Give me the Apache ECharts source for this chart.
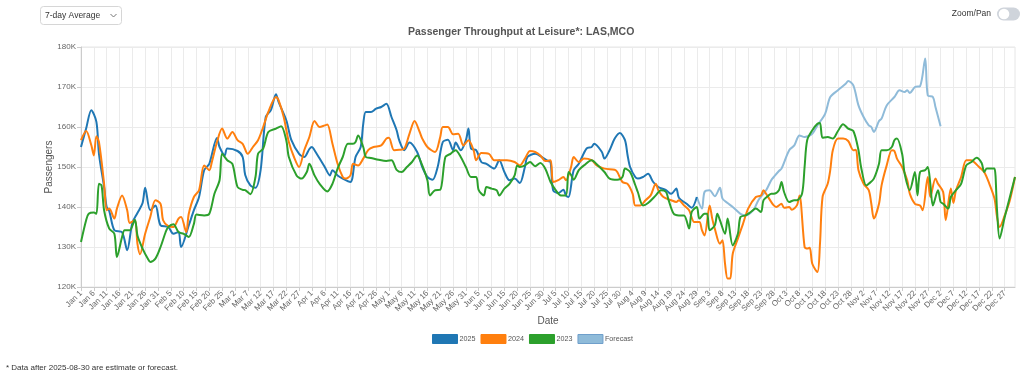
<!DOCTYPE html>
<html><head><meta charset="utf-8">
<script src="https://cdn.jsdelivr.net/npm/echarts@6/dist/echarts.min.js"></script>
<style>html,body{margin:0;padding:0;background:#fff}#c{width:1024px;height:378px}</style>
</head><body><div id="c"></div>
<script>
// Day-of-year categories (Jan 1 .. Dec 31), labels shown every 5 days
const monthNames = ['Jan','Feb','Mar','Apr','May','Jun','Jul','Aug','Sep','Oct','Nov','Dec'];
const monthDays = [31,28,31,30,31,30,31,31,30,31,30,31];
const categories = [];
monthNames.forEach((m, i) => { for (let d = 1; d <= monthDays[i]; d++) categories.push(m + ' ' + d); });

const yTicks = [120, 130, 140, 150, 160, 170, 180]; // thousands

// [dayIndex, passengers in thousands]
const s2025 = [[0,155],[2,159.6],[4,164.2],[6,161.3],[7,153.3],[9,145],[10,140],[11,139],[13,134.2],[16,133.7],[18,129.2],[20,136],[22,138.5],[24,141],[25,144.8],[27,139.2],[29,140.4],[31,135.4],[34,135],[36,133.3],[38,133.75],[39,130],[42,135.4],[44,139.2],[46,142.5],[48,149.2],[50,150.8],[53,157.25],[54,155],[56,152.9],[57,154.6],[61,154],[63,152.5],[64,148],[66,145.4],[68,144.8],[70,149.2],[72,162.5],[74,164.2],[76,168.2],[77,166.25],[80,161.7],[82,156.7],[85,153.3],[87,152.5],[89,154.5],[90,155],[91,154.2],[93,152.1],[95,150],[97,147.9],[98,149.2],[100,147.9],[102,147.1],[105,146.25],[107,152.5],[109,155],[110,160.8],[111,163.75],[113,163.75],[115,164.6],[117,165],[119,165.8],[121,162.5],[123,159.2],[124,156.7],[126,154.2],[128,156.1],[131,153.75],[133,150],[135,147.5],[137,146.8],[139,150],[141,156.25],[143,156.8],[145,154.2],[146,156.1],[148,154.2],[150,156.7],[151,159.6],[152,154.6],[154,154.2],[156,151.25],[158,150.8],[161,149.6],[163,151.7],[165,148.75],[167,146.7],[169,147.1],[171,146],[173,150],[174,152.5],[177,153.3],[180,152.3],[182,151.5],[183,151.25],[184,144.2],[186,143.5],[188,144.3],[189,142.9],[190,142.5],[192,149.2],[194,150.8],[197,154.6],[199,155],[200,155.8],[203,153.75],[204,152.1],[206,154.2],[208,157.1],[210,158.5],[212,156.7],[213,153],[214,150],[216,147.5],[217,147.1],[219,147.5],[221,148.3],[223,146.25],[225,145],[228,144.2],[230,143.3],[232,144.6],[233,142.3],[236,140.8],[238,139.8],[240,142.5]];

const s2024 = [[0,156.7],[2,159],[4,155.5],[5,152.9],[6,157.7],[7,156.25],[9,145.8],[10,139.2],[11,139.6],[13,137.1],[14,139.6],[16,142.9],[18,139.2],[19,136],[21,136.7],[22,130.8],[23,128.2],[25,133.3],[27,137.5],[29,141.7],[31,140.8],[32,136.7],[34,135.2],[36,135],[38,137.1],[39,137.5],[41,133.75],[42,138.3],[44,142.5],[46,144.2],[48,150.4],[50,149.2],[51,151.25],[53,156.25],[55,159.6],[57,157.1],[59,158.75],[61,156.7],[63,155.8],[65,153.3],[67,155],[69,156.7],[71,160],[73,163.75],[76,167.5],[77,166.7],[79,162.5],[81,156.25],[83,152.5],[85,150],[87,154.2],[89,157.5],[91,161.5],[93,160],[95,160.4],[96,160.6],[98,155.8],[100,150.8],[102,147.5],[103,147.1],[105,147.9],[106,150.8],[108,150.4],[110,152.1],[112,154.3],[114,155],[117,155.4],[119,157.1],[120,157.3],[122,154.2],[124,154.3],[126,154.6],[128,158.3],[130,161.5],[132,158.75],[133,157.1],[135,155],[138,153.75],[140,157.5],[141,160],[143,160],[145,158.2],[147,158.3],[149,155.4],[151,156.7],[153,154.2],[154,151.7],[156,153.5],[159,153.3],[161,151.7],[164,151.7],[166,151.7],[169,151.25],[171,150.4],[173,152.1],[175,154],[177,153.75],[179,152.9],[181,151.5],[183,151.7],[184,146.25],[186,146.7],[188,147.5],[189,146.7],[191,150],[192,152.5],[194,151.25],[196,152.1],[199,151.7],[201,150.4],[204,149.6],[208,149.3],[209,148.75],[211,146.25],[213,145.8],[215,143.3],[216,140.4],[218,140.4],[220,141.7],[222,142.9],[224,145.8],[225,144.2],[227,142.5],[230,141.7],[232,141.25],[233,141.7],[235,140.4],[237,139.2],[239,136.25],[241,136.25],[242,134.2],[243,132.9],[245,140.4],[246,137.1],[247,134.6],[249,130.8],[250,131.7],[251,125.8],[252,122.1],[253,122.1],[254,128.3],[256,132.1],[258,135.8],[260,139.6],[263,142.5],[265,142.9],[266,144.2],[267,143.3],[269,141.25],[270,140.4],[271,140],[273,140.8],[274,139.8],[276,140],[277,139.3],[279,140.4],[280,142.9],[282,130],[283,129.6],[284,129.8],[285,125.8],[287,123.75],[288,130.8],[289,142.5],[291,145.8],[292,149.2],[293,154.2],[295,157.1],[297,157.1],[299,156.5],[301,154.2],[302,154.3],[303,149.2],[305,145.8],[307,144.2],[308,140.8],[309,137.1],[311,140.8],[312,145.4],[314,150.4],[316,154.2],[317,154],[318,152.1],[320,150],[322,146.7],[323,143.3],[325,140.8],[327,140.4],[328,139.2],[330,147.5],[331,142.5],[333,147.1],[334,145.8],[336,143.75],[337,136.7],[339,144.6],[340,141],[341,144.2],[343,147.5],[345,151.7],[347,151.7],[348,151.25],[350,150],[352,148.75],[354,145.8],[356,142.1],[357,137.5],[358,135],[360,137.9],[362,141.7],[364,147.5]];

const s2023 = [[0,131.25],[2,136.7],[3,138.3],[5,138.6],[6,138.3],[7,145.8],[8,145.4],[9,139.2],[11,134.6],[13,133.3],[14,127.5],[16,132.5],[17,134.2],[19,134.2],[21,136.8],[22,132.9],[24,129.6],[26,127.1],[27,126.25],[29,127.1],[31,130],[33,133.75],[34,135],[36,135.7],[38,133.75],[40,133.3],[42,132.5],[44,135.8],[45,138.1],[48,137.9],[50,138.3],[52,143.3],[54,146.7],[55,153.3],[57,151.7],[59,150.8],[61,145],[63,144.3],[64,144.2],[66,143.2],[68,147.5],[69,153.3],[71,154.6],[73,158.75],[76,159.6],[78,160.2],[80,156.7],[81,152.5],[84,147.9],[86,147.1],[88,148.75],[89,150.8],[91,147.9],[93,145.8],[96,143.9],[98,145.8],[100,149.6],[102,152.5],[104,155.8],[106,155.8],[107,156.25],[108,157.9],[110,155],[111,152.5],[113,152.25],[116,151.8],[119,151.5],[121,151.7],[123,149.3],[125,148.75],[127,150],[129,151.25],[131,152.9],[133,150.4],[135,146.7],[136,142.9],[138,144.2],[140,144.3],[142,152.5],[144,153.3],[146,154.2],[148,152.5],[150,150],[152,147.5],[154,147.5],[155,144.2],[157,142.9],[158,145],[160,144.6],[162,144.2],[163,142.9],[165,144.6],[167,145.8],[169,147.9],[170,150.4],[171,150],[173,150.4],[175,151.25],[177,150.2],[179,151],[181,149.5],[183,146.25],[185,144.2],[187,142.9],[189,142.9],[190,148.75],[191,148],[192,146.8],[194,149.2],[196,150.4],[199,151.7],[201,150.7],[204,148.75],[206,147.1],[209,146.8],[211,147.5],[212,149.6],[214,148.75],[216,145.5],[217,143.75],[219,140.4],[221,141],[224,142.9],[226,144.2],[228,143.75],[229,141.7],[231,138.3],[233,137.9],[235,137.9],[237,134.6],[238,138.75],[240,140],[241,137.1],[243,138.3],[244,138.3],[245,134.2],[247,135.4],[248,138.3],[249,136.7],[251,133.3],[252,137.1],[254,130.4],[256,133.3],[257,137.5],[259,137.9],[261,138.75],[263,139.6],[265,138.75],[266,141.7],[268,142.9],[269,143.3],[270,143.3],[272,144.2],[273,146.25],[274,143.75],[276,141.25],[278,141.7],[279,141.7],[281,143.3],[282,150],[283,156.7],[285,159.2],[287,160.8],[288,161],[289,157.3],[291,157.5],[293,157.1],[295,159],[297,160.7],[299,159.6],[301,159],[303,154.2],[304,150],[306,145.4],[307,145.8],[309,147.1],[311,150.8],[312,154.2],[314,154.2],[316,155],[317,156.7],[318,157.1],[320,153.3],[321,148.3],[323,144.2],[325,148.75],[326,142.9],[327,148.75],[329,149.2],[330,150],[331,145.8],[332,140.4],[334,144.2],[335,141.25],[336,140.8],[338,139.6],[339,142.5],[341,144.2],[343,145.8],[345,150.4],[347,151.25],[349,152.3],[351,151],[352,148.75],[353,149.6],[355,149.6],[356,149.6],[357,139.2],[358,132.1],[360,137.5],[362,142.5],[364,147.5]];

const sForecast = [[240,142.5],[242,139.6],[243,143.75],[245,144.2],[247,142.7],[249,144.8],[250,142.1],[252,141],[254,140],[257,138.3],[259,137.9],[262,139.2],[264,141.7],[267,144.2],[269,146.7],[270,147.5],[272,149],[273,149.6],[276,154.2],[278,155.4],[280,157.9],[282,157.5],[285,158.3],[287,160.4],[290,163.3],[292,167.5],[295,169.2],[298,170.8],[299,171.5],[301,170.4],[303,165.4],[305,162.5],[307,160.4],[308,160],[309,158.75],[311,161.5],[312,162.1],[314,165.4],[317,167.5],[319,169.2],[321,168.75],[322,169.2],[323,168.5],[325,170],[327,170.2],[329,177.1],[330,167.9],[332,167.5],[333,165],[335,160.2]];

const seriesNames = ['2025','2024','2023','Forecast'];
const seriesColors = ['#1f77b4','#ff7f0e','#2ca02c','#8fbbd9'];
const seriesData = [s2025, s2024, s2023, sForecast];

const FONT = '"Liberation Sans", Arial, Helvetica, sans-serif';
const chart = echarts.init(document.getElementById('c'), null, {renderer: 'canvas'});

chart.setOption({
  animation: false,
  textStyle: {fontFamily: FONT},
  title: {
    text: 'Passenger Throughput at Leisure*: LAS,MCO',
    left: 408, top: 27, padding: 0,
    textStyle: {fontSize: 10.5, fontWeight: 'bold', color: '#555', fontFamily: FONT}
  },
  legend: {
    left: 432, top: 334, padding: 0,
    itemWidth: 25, itemHeight: 9, itemGap: 5,
    icon: 'rect',
    textStyle: {fontSize: 7.2, color: '#555', fontFamily: FONT, padding: [0,0,0,-3]},
    data: seriesNames.map((n, i) => ({
      name: n,
      itemStyle: {color: seriesColors[i], borderColor: i === 3 ? '#6f9fcb' : seriesColors[i], borderWidth: 1}
    }))
  },
  grid: {left: 81, right: 9, top: 47, bottom: 91, show: true, borderColor: '#e6e6e6', borderWidth: 1},
  xAxis: {
    type: 'category',
    data: categories,
    boundaryGap: false,
    name: 'Date', nameLocation: 'middle', nameGap: 29, nameMoveOverlap: false,
    nameTextStyle: {fontSize: 10, color: '#555', fontFamily: FONT},
    axisLine: {lineStyle: {color: '#ccc'}},
    axisTick: {show: true, interval: 4, length: 4, lineStyle: {color: '#ccc'}},
    axisLabel: {interval: 4, rotate: 45, fontSize: 8, color: '#666', margin: 5, fontFamily: FONT},
    splitLine: {show: true, interval: 4, lineStyle: {color: '#ebebeb', width: 1}}
  },
  yAxis: {
    type: 'value',
    min: yTicks[0], max: yTicks[yTicks.length - 1], interval: 10,
    name: 'Passengers', nameLocation: 'middle', nameGap: 27, nameMoveOverlap: false,
    nameTextStyle: {fontSize: 10, color: '#555', fontFamily: FONT},
    axisLine: {show: true, lineStyle: {color: '#ccc'}},
    axisTick: {show: true, length: 4, lineStyle: {color: '#ccc'}},
    axisLabel: {formatter: v => v + 'K', fontSize: 8, color: '#666', margin: 5, fontFamily: FONT},
    splitLine: {lineStyle: {color: '#ebebeb', width: 1}}
  },
  series: seriesNames.map((n, i) => ({
    name: n,
    type: 'line',
    data: seriesData[i],
    showSymbol: false,
    symbol: 'none',
    smooth: 0.3,
    z: i === 3 ? 1 : 2 + i,
    lineStyle: {color: seriesColors[i], width: 2},
    itemStyle: {color: seriesColors[i]}
  })),
  graphic: [
    {type: 'rect', shape: {x: 40.5, y: 6.5, width: 81, height: 18, r: 3}, style: {fill: '#fff', stroke: '#d6d6d6', lineWidth: 1}},
    {type: 'text', x: 45, y: 15.5, style: {text: '7-day Average', fontSize: 8.5, fill: '#333', fontFamily: FONT, verticalAlign: 'middle'}},
    {type: 'polyline', shape: {points: [[110.5, 14], [113.5, 17], [116.5, 14]]}, style: {stroke: '#777', lineWidth: 1, fill: null}},
    {type: 'text', x: 991, y: 14, style: {text: 'Zoom/Pan', fontSize: 8.5, fill: '#333', fontFamily: FONT, align: 'right', verticalAlign: 'middle'}},
    {type: 'rect', shape: {x: 997, y: 7.5, width: 23, height: 13, r: 6.5}, style: {fill: '#cfd4db'}},
    {type: 'circle', shape: {cx: 1004, cy: 14, r: 5.3}, style: {fill: '#fff'}},
    {type: 'text', x: 6, y: 368, style: {text: '* Data after 2025-08-30 are estimate or forecast.', fontSize: 8, fill: '#333', fontFamily: FONT, verticalAlign: 'middle'}}
  ]
});
</script>
</body></html>
